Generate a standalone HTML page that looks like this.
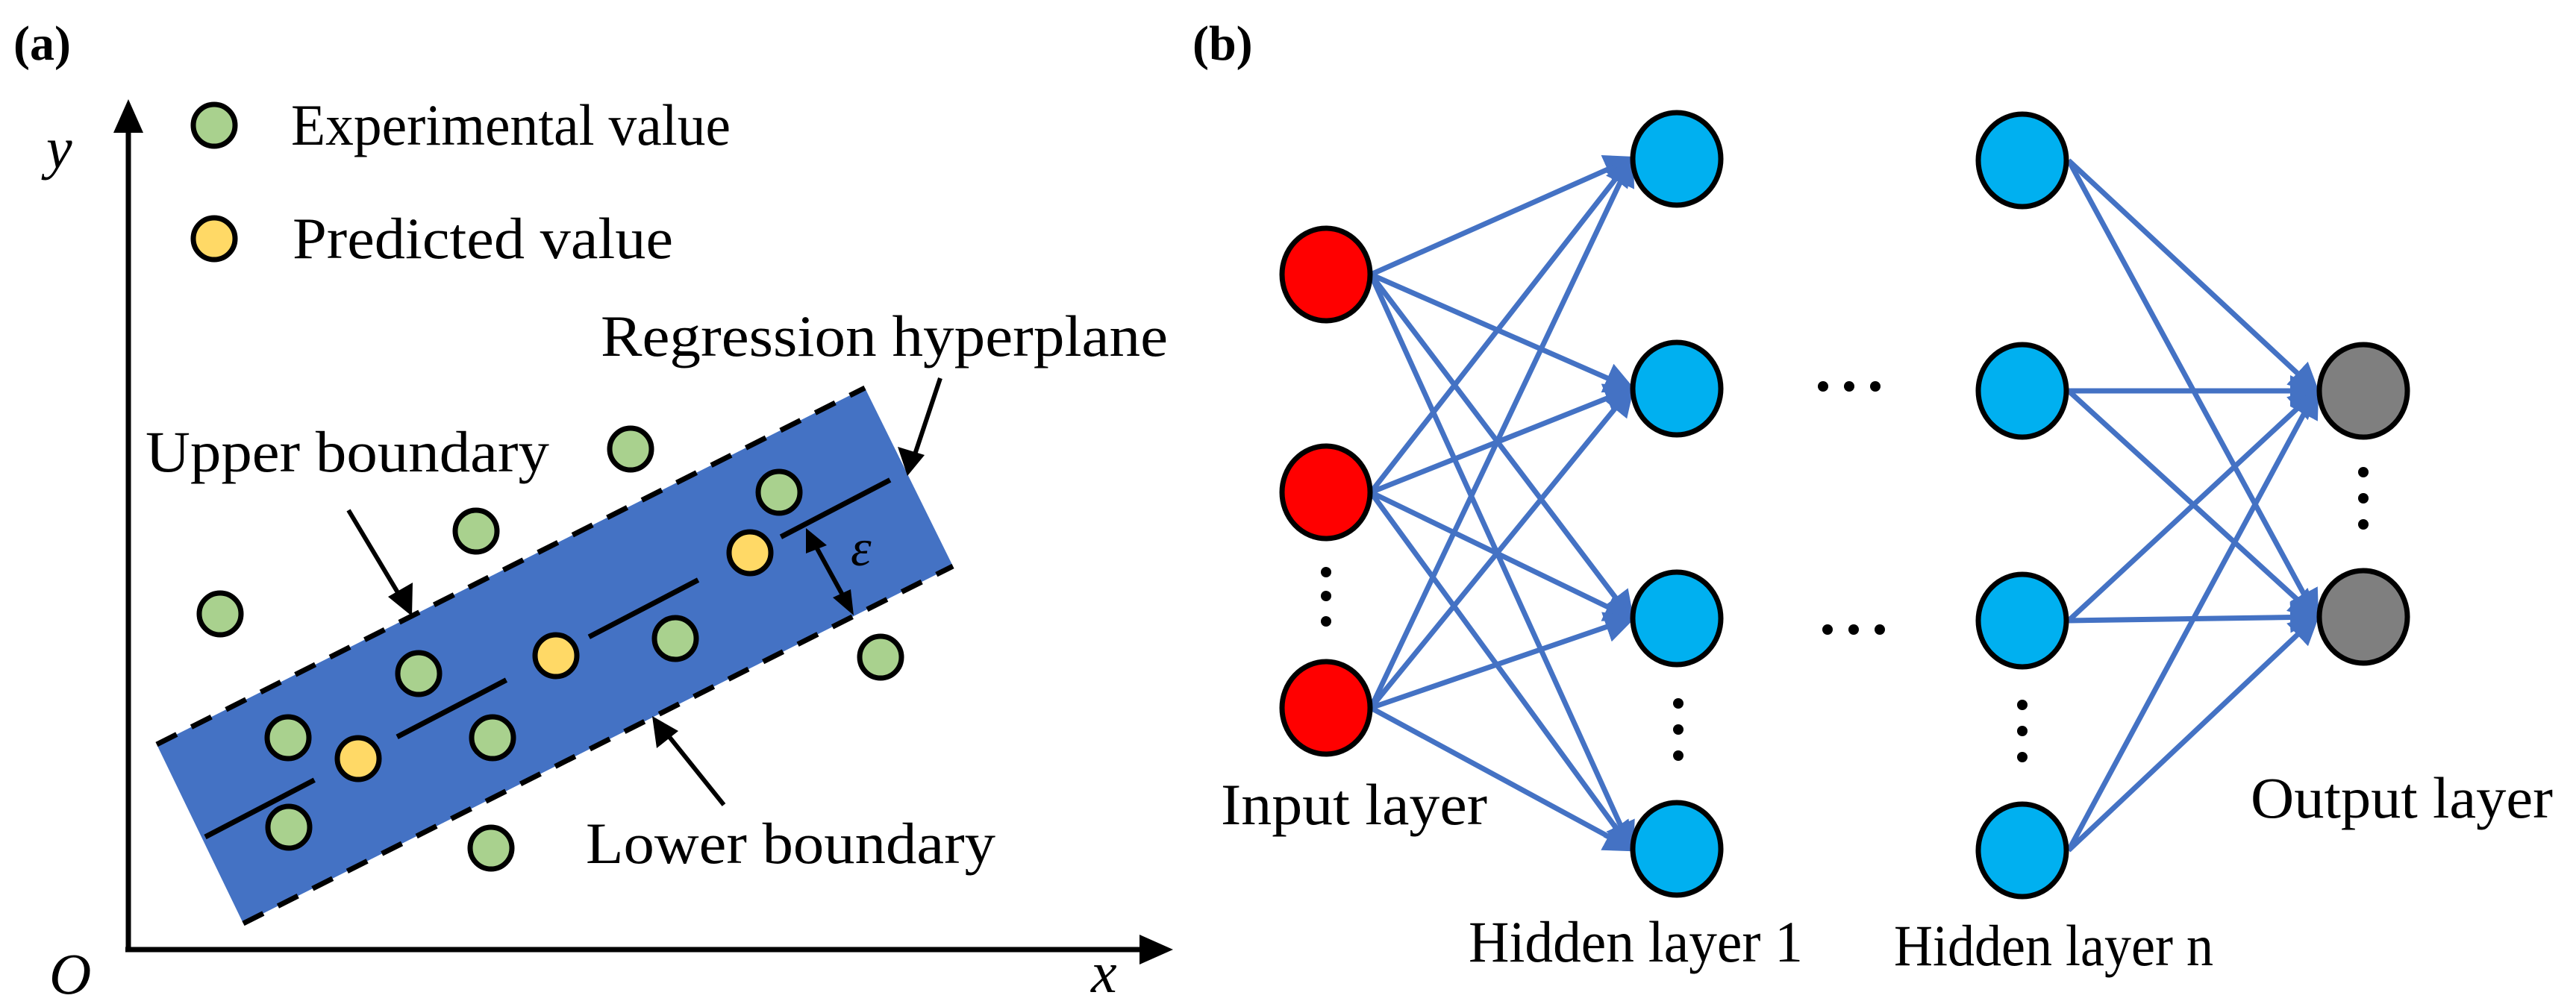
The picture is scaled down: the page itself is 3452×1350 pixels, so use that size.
<!DOCTYPE html>
<html><head><meta charset="utf-8"><style>
html,body{margin:0;padding:0;background:#fff;}
svg{display:block;}
svg text{font-family:"Liberation Serif","Noto Serif CJK SC","DejaVu Serif",serif;fill:#000;}
</style></head><body>
<svg width="3452" height="1350" viewBox="0 0 3452 1350" xmlns="http://www.w3.org/2000/svg">
<defs>
<marker id="ah" markerWidth="6" markerHeight="6" refX="5" refY="3" orient="auto" markerUnits="strokeWidth">
<path d="M0,0 L6,3 L0,6 Z" fill="#4472c4"/></marker>
</defs>
<!-- Panel a -->
<text x="18" y="80" font-size="66" font-weight="bold">(a)</text>
<line x1="172" y1="1273" x2="172" y2="170" stroke="#000" stroke-width="7"/>
<path d="M172,133 L152,178 L192,178 Z" fill="#000"/>
<line x1="168" y1="1273" x2="1530" y2="1273" stroke="#000" stroke-width="7"/>
<path d="M1572,1273 L1527,1253 L1527,1293 Z" fill="#000"/>
<text x="62" y="225" font-size="78" font-style="italic">y</text>
<text x="66" y="1332" font-size="78" font-style="italic">O</text>
<text x="1462" y="1330" font-size="78" font-style="italic">x</text>

<ellipse cx="287" cy="168" rx="28" ry="28" fill="#a9d18e" stroke="#000" stroke-width="7"/>
<text x="390" y="194" font-size="78" textLength="589" lengthAdjust="spacingAndGlyphs">Experimental value</text>
<ellipse cx="287" cy="320" rx="28" ry="28" fill="#ffd966" stroke="#000" stroke-width="7"/>
<text x="392" y="346" font-size="78" textLength="510" lengthAdjust="spacingAndGlyphs">Predicted value</text>

<polygon points="210,998 1159,520 1277,759 326,1238" fill="#4472c4"/>
<line x1="210" y1="998" x2="1159" y2="520" stroke="#000" stroke-width="7" stroke-dasharray="30,22"/>
<line x1="326" y1="1238" x2="1277" y2="759" stroke="#000" stroke-width="7" stroke-dasharray="30,22"/>
<line x1="275" y1="1122" x2="1207" y2="636" stroke="#000" stroke-width="7" stroke-dasharray="165,125"/>

<g stroke="#000" stroke-width="7">
<circle cx="295" cy="823" r="28" fill="#a9d18e"/>
<circle cx="638" cy="712" r="28" fill="#a9d18e"/>
<circle cx="845" cy="602" r="28" fill="#a9d18e"/>
<circle cx="1044" cy="660" r="28" fill="#a9d18e"/>
<circle cx="386" cy="989" r="28" fill="#a9d18e"/>
<circle cx="561" cy="903" r="28" fill="#a9d18e"/>
<circle cx="905" cy="856" r="28" fill="#a9d18e"/>
<circle cx="660" cy="989" r="28" fill="#a9d18e"/>
<circle cx="387" cy="1109" r="28" fill="#a9d18e"/>
<circle cx="658" cy="1137" r="28" fill="#a9d18e"/>
<circle cx="1180" cy="881" r="28" fill="#a9d18e"/>
<circle cx="480" cy="1017" r="28" fill="#ffd966"/>
<circle cx="745" cy="879" r="28" fill="#ffd966"/>
<circle cx="1005" cy="741" r="28" fill="#ffd966"/>
</g>

<text x="805" y="477" font-size="78" textLength="760" lengthAdjust="spacingAndGlyphs">Regression hyperplane</text>
<text x="195" y="632" font-size="78" textLength="541" lengthAdjust="spacingAndGlyphs">Upper boundary</text>
<text x="785" y="1157" font-size="78" textLength="549" lengthAdjust="spacingAndGlyphs">Lower boundary</text>

<line x1="467" y1="684" x2="540" y2="806" stroke="#000" stroke-width="6"/>
<path d="M552,826 L520,800 L553,781 Z" fill="#000"/>
<line x1="1260" y1="507" x2="1225" y2="612" stroke="#000" stroke-width="6"/>
<path d="M1216,638 L1203,599 L1239,610 Z" fill="#000"/>
<line x1="970" y1="1079" x2="889" y2="978" stroke="#000" stroke-width="6"/>
<path d="M874,960 L909,980 L880,1003 Z" fill="#000"/>
<line x1="1092" y1="730" x2="1132" y2="803" stroke="#000" stroke-width="6"/>
<path d="M1080,708 L1108,731 L1080,742 Z" fill="#000"/>
<path d="M1144,825 L1116,801 L1140,790 Z" fill="#000"/>
<text x="1140" y="758" font-size="70" font-style="italic">ε</text>

<!-- Panel b -->
<text x="1598" y="80" font-size="66" font-weight="bold">(b)</text>
<g stroke="#4472c4" stroke-width="7" marker-end="url(#ah)" fill="none">
<line x1="1837" y1="368" x2="2186" y2="213"/>
<line x1="1837" y1="368" x2="2186" y2="521"/>
<line x1="1837" y1="368" x2="2186" y2="829"/>
<line x1="1837" y1="368" x2="2186" y2="1138"/>
<line x1="1837" y1="660" x2="2186" y2="213"/>
<line x1="1837" y1="660" x2="2186" y2="521"/>
<line x1="1837" y1="660" x2="2186" y2="829"/>
<line x1="1837" y1="660" x2="2186" y2="1138"/>
<line x1="1837" y1="949" x2="2186" y2="213"/>
<line x1="1837" y1="949" x2="2186" y2="521"/>
<line x1="1837" y1="949" x2="2186" y2="829"/>
<line x1="1837" y1="949" x2="2186" y2="1138"/>
<line x1="2772" y1="215" x2="3104" y2="524"/>
<line x1="2772" y1="215" x2="3104" y2="827"/>
<line x1="2772" y1="524" x2="3104" y2="524"/>
<line x1="2772" y1="524" x2="3104" y2="827"/>
<line x1="2772" y1="832" x2="3104" y2="524"/>
<line x1="2772" y1="832" x2="3104" y2="827"/>
<line x1="2772" y1="1140" x2="3104" y2="524"/>
<line x1="2772" y1="1140" x2="3104" y2="827"/>
</g>
<g stroke="#000" stroke-width="7">
<ellipse cx="1777" cy="368" rx="59" ry="62" fill="#ff0000"/>
<ellipse cx="1777" cy="660" rx="59" ry="62" fill="#ff0000"/>
<ellipse cx="1777" cy="949" rx="59" ry="62" fill="#ff0000"/>
<ellipse cx="2247" cy="213" rx="59" ry="62" fill="#00b0f0"/>
<ellipse cx="2247" cy="521" rx="59" ry="62" fill="#00b0f0"/>
<ellipse cx="2247" cy="829" rx="59" ry="62" fill="#00b0f0"/>
<ellipse cx="2247" cy="1138" rx="59" ry="62" fill="#00b0f0"/>
<ellipse cx="2710" cy="215" rx="59" ry="62" fill="#00b0f0"/>
<ellipse cx="2710" cy="524" rx="59" ry="62" fill="#00b0f0"/>
<ellipse cx="2710" cy="832" rx="59" ry="62" fill="#00b0f0"/>
<ellipse cx="2710" cy="1140" rx="59" ry="62" fill="#00b0f0"/>
<ellipse cx="3167" cy="524" rx="59" ry="62" fill="#7f7f7f"/>
<ellipse cx="3167" cy="827" rx="59" ry="62" fill="#7f7f7f"/>
</g>
<g fill="#000">
<circle cx="1777" cy="767" r="7"/><circle cx="1777" cy="799" r="7"/><circle cx="1777" cy="833" r="7"/>
<circle cx="2249" cy="943" r="7"/><circle cx="2249" cy="978" r="7"/><circle cx="2249" cy="1013" r="7"/>
<circle cx="2710" cy="945" r="7"/><circle cx="2710" cy="980" r="7"/><circle cx="2710" cy="1015" r="7"/>
<circle cx="3167" cy="633" r="7"/><circle cx="3167" cy="668" r="7"/><circle cx="3167" cy="703" r="7"/>
<circle cx="2443" cy="518" r="7"/><circle cx="2478" cy="518" r="7"/><circle cx="2513" cy="518" r="7"/>
<circle cx="2449" cy="844" r="7"/><circle cx="2484" cy="844" r="7"/><circle cx="2519" cy="844" r="7"/>
</g>
<text x="1636" y="1105" font-size="78" textLength="357" lengthAdjust="spacingAndGlyphs">Input layer</text>
<text x="1968" y="1289" font-size="78" textLength="448" lengthAdjust="spacingAndGlyphs">Hidden layer 1</text>
<text x="2538" y="1294" font-size="78" textLength="428" lengthAdjust="spacingAndGlyphs">Hidden layer n</text>
<text x="3016" y="1096" font-size="78" textLength="405" lengthAdjust="spacingAndGlyphs">Output layer</text>
</svg>
</body></html>
